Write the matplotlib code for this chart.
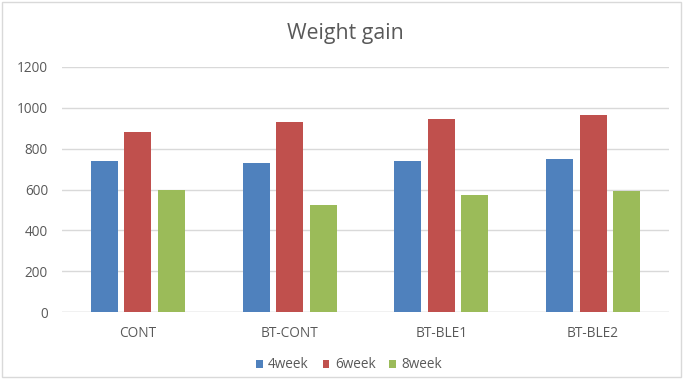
import matplotlib
matplotlib.use("Agg")
import matplotlib.pyplot as plt
import numpy as np
from matplotlib.patches import Rectangle

categories = ["CONT", "BT-CONT", "BT-BLE1", "BT-BLE2"]
series_names = ["4week", "6week", "8week"]
week4 = [740, 730, 738, 748]
week6 = [880, 930, 944, 966]
week8 = [598, 523, 573, 595]
y_ticks = [0, 200, 400, 600, 800, 1000, 1200]

colors = ["#4F81BD", "#C0504D", "#9BBB59"]
text_color = "#595959"

plt.rcParams["font.family"] = ["Open Sans", "DejaVu Sans"]

fig = plt.figure(figsize=(6.83, 3.79), dpi=100)
fig.patches.append(Rectangle((0.003, 0.004), 0.994, 0.992, transform=fig.transFigure,
                             fill=False, edgecolor="#d9d9d9", linewidth=1.0))
ax = fig.add_axes([62 / 683, 1 - 312 / 379, (669 - 62) / 683, (312 - 67) / 379])

x = np.arange(len(categories))
bar_w = 0.178
step = 0.22
for i, (vals, name) in enumerate(zip([week4, week6, week8], series_names)):
    ax.bar(x + (i - 1) * step, vals, width=bar_w, color=colors[i], label=name, zorder=3)

ax.set_xlim(-0.5, len(categories) - 0.5)
ax.set_ylim(0, 1200)
ax.set_yticks(y_ticks)
ax.set_xticks(x)
ax.set_xticklabels(categories)
ax.grid(axis="y", color="#d9d9d9", linewidth=1.0, zorder=0)
for s in ax.spines.values():
    s.set_visible(False)
ax.axhline(0, color="#d9d9d9", linewidth=1.0, zorder=2)
ax.tick_params(axis="both", length=0, labelsize=9.8, colors=text_color)
ax.tick_params(axis="y", pad=10)
ax.tick_params(axis="x", pad=10)

fig.text(345 / 683, 1 - 33 / 379, "Weight gain", ha="center", va="center",
         fontsize=15.3, color=text_color)

leg = fig.legend(loc="center", bbox_to_anchor=(349 / 683, 1 - 365 / 379), ncol=3,
                 frameon=False, fontsize=9.8, handlelength=0.5, handleheight=0.5,
                 handletextpad=0.4, columnspacing=1.0)
for t in leg.get_texts():
    t.set_color(text_color)

fig.savefig("out.png", dpi=100)
